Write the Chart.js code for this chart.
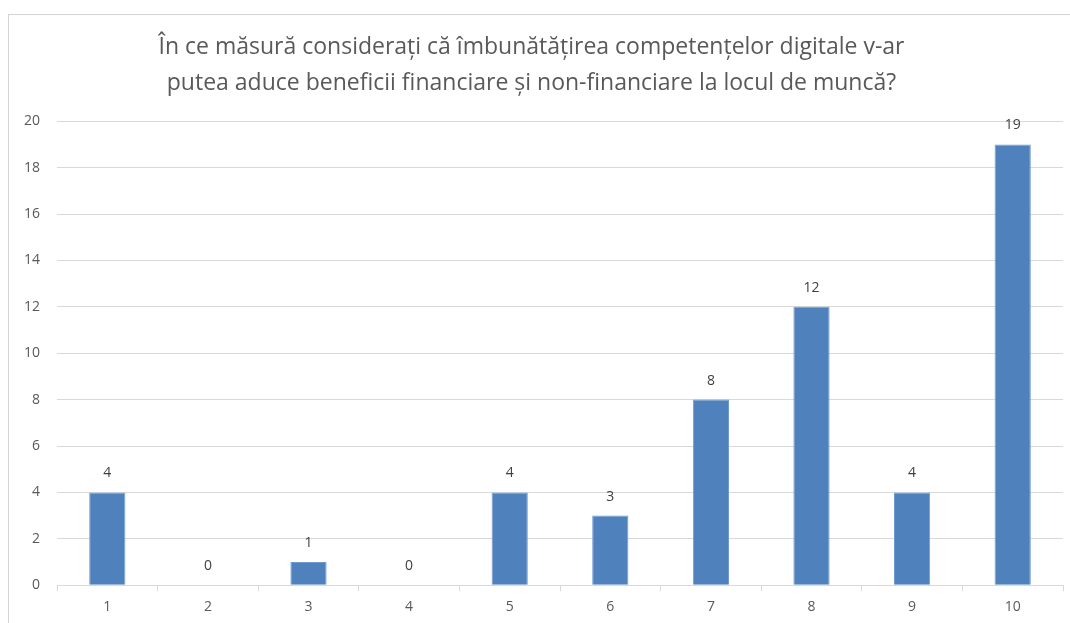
<!DOCTYPE html>
<html><head><meta charset="utf-8">
<script src="https://cdn.jsdelivr.net/npm/chart.js@4.4.0/dist/chart.umd.min.js"></script>
<style>
html,body{margin:0;padding:0;background:#fff;}
#wrap{position:relative;width:1070px;height:623px;overflow:hidden;}
#frame{position:absolute;left:8px;top:14px;width:1100px;height:700px;border-left:1px solid #d4d4d4;border-top:1px solid #d4d4d4;}
canvas{position:absolute;left:0;top:0;}
</style></head>
<body><div id="wrap"><div id="frame"></div><canvas id="c" width="1070" height="623"></canvas></div>
<script>
const categories = ['1','2','3','4','5','6','7','8','9','10'];
const values = [4,0,1,0,4,3,8,12,4,19];
const titleLines = ['În ce măsură considerați că îmbunătățirea competențelor digitale v-ar','putea aduce beneficii financiare și non-financiare la locul de muncă?'];
const FONT = "'Liberation Sans Narrow','Open Sans',sans-serif";

const barLabels = {
  id:'barLabels',
  afterDatasetsDraw(chart){
    const ctx = chart.ctx;
    const meta = chart.getDatasetMeta(0);
    ctx.save();
    ctx.font = "14px 'Open Sans', sans-serif";
    ctx.fillStyle = '#404040';
    ctx.textAlign = 'center';
    ctx.textBaseline = 'middle';
    meta.data.forEach((bar,i)=>{
      ctx.fillText(String(values[i]), bar.x, bar.y - 19);
    });
    ctx.restore();
  }
};

new Chart(document.getElementById('c'), {
  type:'bar',
  data:{labels:categories, datasets:[{data:values, backgroundColor:'#4f81bd', borderColor:'#6f9ad0', borderWidth:1, barPercentage:0.36, categoryPercentage:1}]},
  options:{
    responsive:false, animation:false,
    layout:{padding:{left:0,right:7,top:0,bottom:1}},
    plugins:{
      legend:{display:false}, tooltip:{enabled:false},
      title:{display:true, text:titleLines, color:'#595959', font:{family:FONT, size:23, weight:'normal', lineHeight:1.57}, padding:{top:29,bottom:20}}
    },
    scales:{
      x:{
        grid:{display:true, drawOnChartArea:false, drawTicks:true, tickLength:6, color:'#d9d9d9', offset:true},
        border:{display:true, color:'#d9d9d9'},
        ticks:{color:'#595959', font:{family:"'Open Sans',sans-serif", size:14}, padding:7}
      },
      y:{
        min:0, max:20,
        afterFit(s){ s.width = 57; },
        grid:{color:'#d9d9d9', drawTicks:false},
        border:{display:false},
        ticks:{stepSize:2, color:'#595959', font:{family:"'Open Sans',sans-serif", size:14}, padding:17}
      }
    }
  },
  plugins:[barLabels]
});
</script></body></html>
